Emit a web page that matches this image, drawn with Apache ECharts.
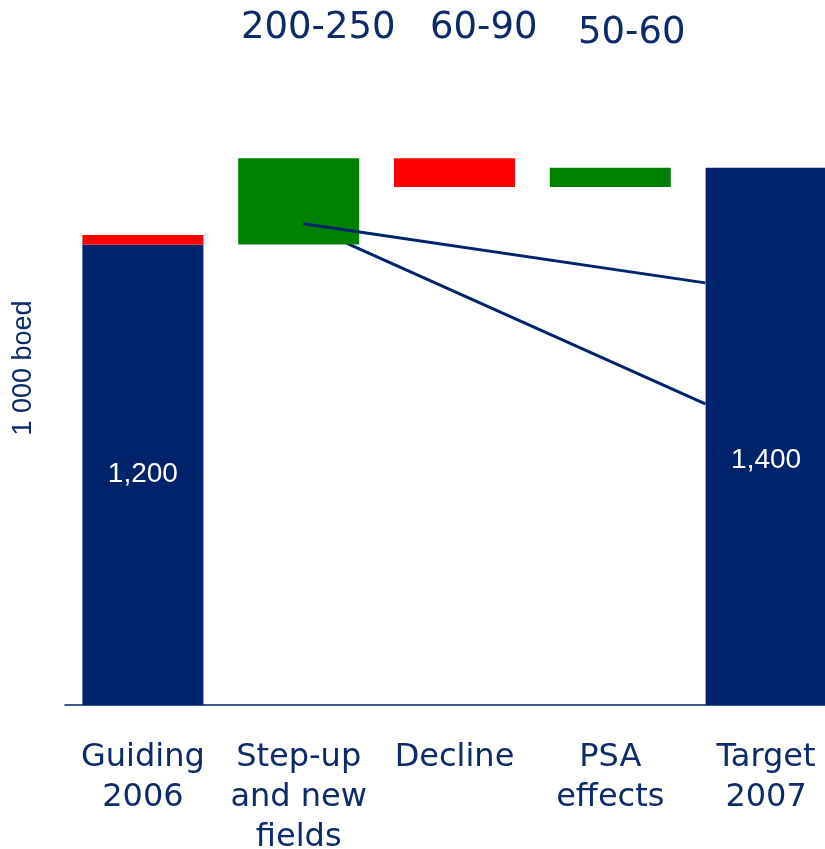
<!DOCTYPE html>
<html>
<head>
<meta charset="utf-8">
<script src="https://cdn.jsdelivr.net/npm/echarts@6/dist/echarts.min.js"></script>
<style>
html,body{margin:0;padding:0;background:#fff;overflow:hidden;}
#draw_1{width:845px;height:849px;}
</style>
</head>
<body>
<div id="draw_1"></div>
<script>
var categories = ['Guiding\n2006', 'Step-up\nand new\nfields', 'Decline', 'PSA\neffects', 'Target\n2007'];
// stacked waterfall pieces (1 000 boed)
var baseValues = [0, 1200, 1350, 1350, 0];
var navyValues = [1200, 0, 0, 0, 1400];
var redValues = [25, 0, 75, 0, 0];
var greenValues = [0, 225, 0, 50, 0];
var barLabels = ['1,200', '', '', '', '1,400'];
var rangeLabels = ['200-250', '60-90', '50-60'];
// connector lines: [category position, value]
var lineUpper = [[1.03, 1254], [3.61, 1100]];
var lineLower = [[1.03, 1254], [3.61, 785]];

var navy = '#00246b';
var txt = '#0d2a6b';
var myChart = echarts.init(document.getElementById('draw_1'));

var option = {
	animation: false,
	backgroundColor: '#fff',
	grid: {left: 65, top: 91, right: 1, bottom: 144, outerBoundsMode: 'none', containLabel: false},
	xAxis: [{
		type: 'category',
		data: categories,
		axisLine: {lineStyle: {color: navy, width: 1.5}},
		axisTick: {show: false},
		axisLabel: {
			interval: 0,
			margin: 33,
			color: txt,
			fontFamily: 'DejaVu Sans',
			fontSize: 32,
			lineHeight: 40
		}
	}, {
		type: 'value',
		min: -0.5,
		max: 4.5,
		show: false
	}],
	yAxis: {
		type: 'value',
		min: 0,
		max: 1600,
		show: false
	},
	graphic: [
		{type: 'text', left: 241, top: 10, style: {text: rangeLabels[0], fill: txt, font: '37px "DejaVu Sans"'}},
		{type: 'text', left: 430, top: 10, style: {text: rangeLabels[1], fill: txt, font: '37px "DejaVu Sans"'}},
		{type: 'text', left: 578, top: 15, style: {text: rangeLabels[2], fill: txt, font: '37px "DejaVu Sans"'}},
		{type: 'text', x: 24, y: 368, rotation: Math.PI / 2,
			style: {text: '1 000 boed', fill: txt, font: '27px "Liberation Sans"', textAlign: 'center', textVerticalAlign: 'middle'}}
	],
	series: [
		{
			name: 'base', type: 'bar', stack: 'w', barWidth: 121, z: 2,
			itemStyle: {color: 'rgba(0,0,0,0)'},
			data: baseValues
		},
		{
			name: 'level', type: 'bar', stack: 'w', barWidth: 121, z: 2,
			itemStyle: {color: navy},
			label: {
				show: true,
				position: 'inside',
				color: '#fff',
				fontFamily: 'Liberation Sans',
				fontSize: 28,
				formatter: function(p){ return barLabels[p.dataIndex]; }
			},
			labelLayout: function(p){
				return p.dataIndex === 4 ? {dy: 24} : {};
			},
			data: navyValues
		},
		{
			name: 'down', type: 'bar', stack: 'w', barWidth: 121, z: 2,
			itemStyle: {color: '#ff0000'},
			data: redValues
		},
		{
			name: 'up', type: 'bar', stack: 'w', barWidth: 121, z: 2,
			itemStyle: {color: '#008000'},
			data: greenValues
		},
		{
			type: 'line', xAxisIndex: 1, z: 1, symbol: 'none',
			lineStyle: {color: navy, width: 3},
			data: lineLower
		},
		{
			type: 'line', xAxisIndex: 1, z: 3, symbol: 'none',
			lineStyle: {color: navy, width: 3},
			data: lineUpper
		}
	]
};
myChart.setOption(option, true);
</script>
</body>
</html>
